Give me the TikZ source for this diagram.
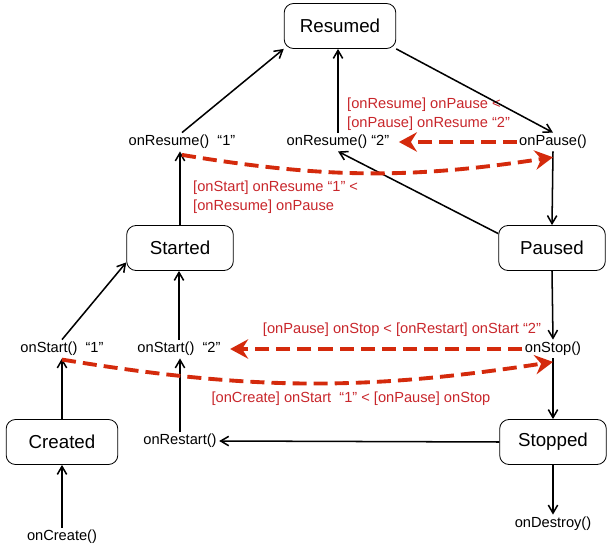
\documentclass[tikz,border=0pt]{standalone}
\usepackage{fontspec}
\setmainfont{Liberation Sans}
\usetikzlibrary{arrows.meta,positioning}
\definecolor{flowred}{HTML}{D42A0C}
\definecolor{notered}{HTML}{C8262B}
\tikzset{
  statebox/.style={draw=black, rounded corners=8pt, line width=0.7pt,
                   minimum width=3.2cm, minimum height=1.35cm,
                   font=\fontsize{16}{19}\selectfont},
  callback/.style={inner sep=2pt, font=\fontsize{12.5}{15}\selectfont},
  rednote/.style={text=notered, align=left, inner sep=0pt,
                  font=\fontsize{12.5}{16}\selectfont},
  lifearr/.style={-{Straight Barb[length=2.4mm,width=2.8mm]}, line width=1.3pt},
  orderarr/.style={-{Stealth[length=5.4mm,width=5.8mm,inset=1.8mm]},
                   color=flowred, line width=3.3pt, dash pattern=on 12pt off 6pt}
}

\begin{document}
\begin{tikzpicture}[x=0.03cm,y=0.03cm]
  \useasboundingbox (0,0) rectangle (607,550);
  % states
  \node[statebox,minimum width=3.35cm] (resumed) at (340,524) {Resumed};
  \node[statebox] (started) at (180,302) {Started};
  \node[statebox] (paused)  at (552,302) {Paused};
  \node[statebox,minimum width=3.35cm] (created) at (62,108) {Created};
  \node[statebox] (stopped) at (553,108) {Stopped};
  % callbacks
  \node[callback] (res1)    at (182,408) {onResume()\ \ “1”};
  \node[callback] (res2)    at (338,408) {onResume() “2”};
  \node[callback] (pause)   at (553,408) {onPause()};
  \node[callback] (start1)  at (62,201)  {onStart()\ \ “1”};
  \node[callback] (start2)  at (179,201) {onStart()\ \ “2”};
  \node[callback] (stop)    at (553,201) {onStop()};
  \node[callback] (restart) at (180,109) {onRestart()};
  \node[callback] (create)  at (62,13)   {onCreate()};
  \node[callback] (destroy) at (553,26)  {onDestroy()};
  % ordering notes
  \node[rednote,anchor=west] (noteA) at (347,436)
    {[onResume] onPause <\\{[onPause]} onResume “2”};
  \node[rednote,anchor=west] (noteB) at (193,353)
    {[onStart] onResume “1” <\\{[onResume]} onPause};
  \node[rednote] (noteC) at (402,220) {[onPause] onStop < [onRestart] onStart “2”};
  \node[rednote] (noteD) at (351,151) {[onCreate] onStart\ \ “1” < [onPause] onStop};
  % lifecycle transitions
  \draw[lifearr] (res1.north) -- (resumed.south west);
  \draw[lifearr] (started.north) -- (started.north |- res1.south);
  \draw[lifearr] (res2.north) -- (res2.north |- resumed.south);
  \draw[lifearr] (resumed.south east) -- (pause.north);
  \draw[lifearr] (pause.south) -- (paused.north);
  \draw[lifearr] (paused.165) -- (res2.south);
  \draw[lifearr] (start1.north) -- (started.195);
  \draw[lifearr] (start2.north) -- (start2.north |- started.south);
  \draw[lifearr] (paused.south) -- (stop.north);
  \draw[lifearr] (stop.south) -- (stopped.north);
  \draw[lifearr] (created.north) -- (start1.south);
  \draw[lifearr] (restart.north) -- (restart.north |- start2.south);
  \draw[lifearr] (stopped.west) -- (restart.east);
  \draw[lifearr] (create.north) -- (created.south);
  \draw[lifearr] (stopped.south) -- (destroy.north);
  % call ordering
  \draw[orderarr,shorten >=6pt] (pause.west) -- (res2.east);
  \draw[orderarr] ([yshift=-3pt]res1.south) to[bend right=9] ([yshift=-5pt]pause.south);
  \draw[orderarr,shorten >=6pt] (stop.west) -- (start2.east);
  \draw[orderarr] ([yshift=-1pt]start1.south) to[bend right=9] ([yshift=-3pt]stop.south);
\end{tikzpicture}
\end{document}
